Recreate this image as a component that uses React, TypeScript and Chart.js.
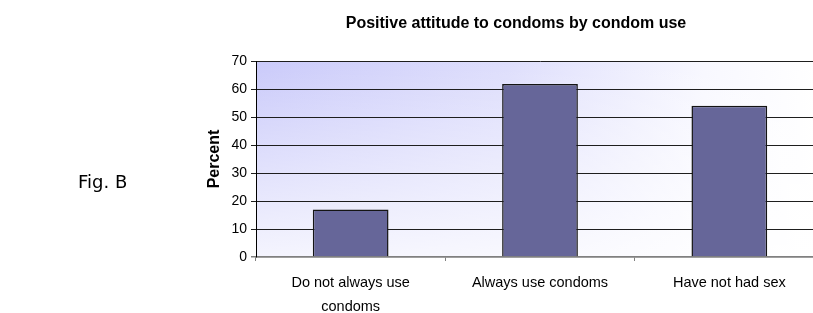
import React, { useEffect, useRef } from "react";
import { Chart, registerables } from "chart.js";

Chart.register(...registerables);

const categories: string[][] = [
  ["Do not always use", "condoms"],
  ["Always use condoms"],
  ["Have not had sex"],
];
const percentValues: number[] = [17, 61.8, 54];
const yTicks: number[] = [0, 10, 20, 30, 40, 50, 60, 70];
const chartTitle = "Positive attitude to condoms by condom use";
const yAxisTitle = "Percent";
const figLabel = "Fig. B";

const bgPlugin = {
  id: "plotBg",
  beforeDraw(chart: any) {
    const { ctx, chartArea } = chart;
    const { left, top, right, bottom } = chartArea;
    const w = right - left;
    const h = bottom - top;
    ctx.save();
    const g2 = ctx.createLinearGradient(left, top, left + 560, top);
    g2.addColorStop(0, "rgb(202,202,250)");
    g2.addColorStop(0.45, "rgb(222,222,252)");
    g2.addColorStop(0.8, "rgb(248,248,255)");
    g2.addColorStop(1, "rgb(255,255,255)");
    ctx.fillStyle = g2;
    ctx.fillRect(left, top, w, h);
    const g3 = ctx.createLinearGradient(left, top, left, bottom);
    g3.addColorStop(0, "rgba(255,255,255,0)");
    g3.addColorStop(1, "rgba(255,255,255,0.8)");
    ctx.fillStyle = g3;
    ctx.fillRect(left, top, w, h);
    ctx.restore();
  },
};

export default function App() {
  const ref = useRef<HTMLCanvasElement | null>(null);
  useEffect(() => {
    if (!ref.current) return;
    const chart = new Chart(ref.current, {
      type: "bar",
      data: {
        labels: categories,
        datasets: [
          {
            data: percentValues,
            backgroundColor: "#666699",
            borderColor: "#141414",
            borderWidth: 1.5,
            barPercentage: 0.4,
            categoryPercentage: 1,
          },
        ],
      },
      options: {
        responsive: false,
        animation: false,
        layout: { padding: { left: 200, right: 6, top: 61, bottom: 0 } },
        plugins: {
          legend: { display: false },
          tooltip: { enabled: false },
          title: { display: false },
        },
        scales: {
          x: {
            offset: true,
            grid: {
              display: true,
              drawOnChartArea: false,
              drawTicks: true,
              tickLength: 4,
              color: "#808080",
              offset: true,
            },
            border: { display: true, color: "#808080", width: 1.5 },
            ticks: {
              color: "#000",
              font: { family: "Arial, 'Liberation Sans'", size: 14.5, lineHeight: 24 / 14.5 },
              padding: 10,
              maxRotation: 0,
              autoSkip: false,
            },
            afterFit: (s: any) => {
              s.height = 56;
            },
          },
          y: {
            min: 0,
            max: 70,
            afterBuildTicks: (s: any) => {
              s.ticks = yTicks.map((v) => ({ value: v }));
            },
            grid: {
              color: (c: any) => (c.tick && c.tick.value === 0 ? "#808080" : "#1e1e1e"),
              lineWidth: (c: any) => (c.tick && c.tick.value === 0 ? 1.5 : 1),
              tickLength: 5,
              drawTicks: true,
            },
            border: { display: true, color: "#000", width: 1 },
            ticks: {
              color: "#000",
              font: { family: "Arial, 'Liberation Sans'", size: 14 },
              padding: 4,
            },
            title: {
              display: true,
              text: yAxisTitle,
              color: "#000",
              font: { family: "Arial, 'Liberation Sans'", size: 16, weight: "bold" },
              padding: { top: 5, bottom: 0 },
            },
            afterFit: (s: any) => {
              s.width = 56;
            },
          },
        },
      },
      plugins: [bgPlugin],
    });
    return () => chart.destroy();
  }, []);

  return (
    <div
      style={{
        position: "fixed",
        left: 0,
        top: 0,
        width: 813,
        height: 313,
        overflow: "hidden",
        background: "#fff",
      }}
    >
      <canvas
        ref={ref}
        width={830}
        height={313}
        style={{ position: "absolute", left: 0, top: 0, display: "block" }}
      />
      <div
        style={{
          position: "absolute",
          left: 316,
          width: 400,
          top: 13,
          textAlign: "center",
          fontFamily: "Arial, 'Liberation Sans'",
          fontWeight: "bold",
          fontSize: 16,
          lineHeight: "19px",
          color: "#000",
          whiteSpace: "nowrap",
        }}
      >
        {chartTitle}
      </div>
      <div
        style={{
          position: "absolute",
          left: 78,
          top: 171,
          fontFamily: "'DejaVu Sans', Verdana, sans-serif",
          fontSize: 18,
          lineHeight: "22px",
          color: "#000",
          whiteSpace: "nowrap",
        }}
      >
        {figLabel}
      </div>
    </div>
  );
}
